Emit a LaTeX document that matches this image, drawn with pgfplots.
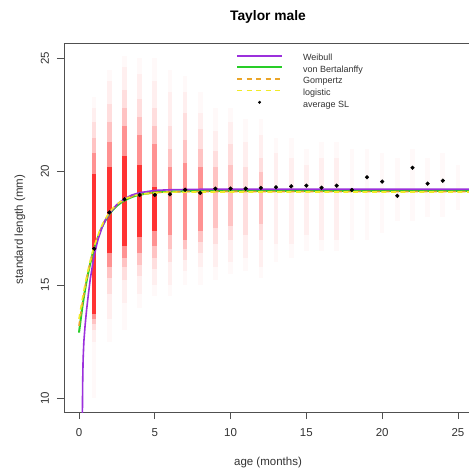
\documentclass[border=0pt]{standalone}
\usepackage{pgfplots}
\pgfplotsset{compat=1.18}
\usepackage{fontspec}
\setmainfont{Liberation Sans}
\definecolor{wpurple}{RGB}{155,48,220}
\definecolor{vbgreen}{RGB}{40,205,40}
\definecolor{gorange}{RGB}{235,165,40}
\definecolor{lyellow}{RGB}{240,235,40}
\definecolor{axgray}{RGB}{80,80,80}
\pgfplotsset{
  linelegend/.style={legend image code/.code={\draw[##1] (0pt,2.6pt) -- (45pt,2.6pt);}},
  dotlegend/.style={legend image code/.code={\draw[##1] plot coordinates {(22.5pt,2.6pt)};}},
  cloud/.style={forget plot, draw=red, line width=4.6pt, opacity=#1},
}
\begin{document}
\begin{tikzpicture}
\begin{axis}[
  name=ax, at={(0,0)}, anchor=south west,
  scale only axis, width=405pt, height=369pt,
  xmin=-0.99, xmax=25.73, ymin=9.40, ymax=25.67,
  axis x line*=box, axis y line*=left,
  xtick={0,5,...,25}, ytick={10,15,20,25},
  xtick pos=bottom, ytick pos=left,
  tick align=outside, major tick length=7pt,
  axis line style={axgray, line width=0.8pt},
  every tick/.style={axgray, line width=0.8pt},
  /pgf/number format/assume math mode=true,
  ticklabel style={font=\fontsize{11.5}{13}\selectfont, text=black!80},
  xticklabel style={anchor=center, yshift=-14pt},
  yticklabel style={anchor=center, xshift=-12pt, rotate=90},
  unbounded coords=jump,
  every axis title/.style={at={(axis description cs:0.5,1)}, anchor=center, yshift=26.3pt, xshift=1.5pt, font=\bfseries\fontsize{13.8}{15}\selectfont},
  every axis x label/.style={at={(axis description cs:0.5,0)}, anchor=center, yshift=-51pt, xshift=1.5pt, font=\fontsize{11.5}{13}\selectfont, text=black!80},
  every axis y label/.style={at={(axis description cs:0,0.5)}, xshift=-44pt, yshift=-2pt, rotate=90, anchor=center, font=\fontsize{11.5}{13}\selectfont, text=black!80},
  title={Taylor male},
  xlabel={age (months)},
  ylabel={standard length (mm)},
  linelegend,
  legend cell align=left,
  legend style={at={(rel axis cs:0.4244,0.970)}, anchor=north west, draw=none, fill=none,
    inner sep=0pt, row sep=3.2pt, column sep=20pt,
    font=\fontsize{9}{10}\selectfont,
    nodes={inner sep=0pt, text height=6.5pt, text depth=1.9pt, text=black!80}},
]
% legend entries
\addlegendimage{draw=wpurple, line width=1.6pt}
\addlegendentry{Weibull}
\addlegendimage{draw=vbgreen, line width=2pt}
\addlegendentry{von Bertalanffy}
\addlegendimage{draw=gorange, line width=1.6pt, dash pattern=on 5pt off 4.5pt}
\addlegendentry{Gompertz}
\addlegendimage{draw=lyellow, line width=1.6pt, dash pattern=on 5pt off 4.5pt}
\addlegendentry{logistic}
\addlegendimage{only marks, mark=*, mark size=1.3pt, black, dotlegend}
\addlegendentry{average SL}
% cloud of individual lengths, layer 1 (outermost, faintest)
\addplot[cloud=0.025] coordinates {
(1,10.0)(1,23.3)(1,nan) (2,12.5)(2,24.5)(2,nan) (3,13.0)(3,25.1)(3,nan) (4,14.0)(4,25.0)(4,nan)
(5,14.5)(5,25.0)(5,nan) (6,14.5)(6,24.5)(6,nan) (7,15.0)(7,24.2)(7,nan) (8,15.0)(8,23.5)(8,nan)
(9,15.2)(9,22.8)(9,nan) (10,15.5)(10,22.8)(10,nan) (11,15.6)(11,22.3)(11,nan) (12,15.3)(12,22.3)(12,nan)
(13,16.0)(13,21.5)(13,nan) (14,16.2)(14,21.5)(14,nan) (15,16.5)(15,21.0)(15,nan) (16,16.5)(16,21.3)(16,nan)
(17,16.5)(17,21.3)(17,nan) (18,17.0)(18,21.0)(18,nan) (19,17.0)(19,21.0)(19,nan) (20,17.3)(20,20.8)(20,nan)
(21,17.8)(21,20.6)(21,nan) (22,17.8)(22,21.0)(22,nan) (23,18.0)(23,20.6)(23,nan) (24,18.0)(24,20.8)(24,nan)
(25,18.3)(25,20.3)
};
% layer 2
\addplot[cloud=0.04] coordinates {
(1,12.5)(1,22.8)(1,nan) (2,13.5)(2,24.0)(2,nan) (3,14.2)(3,24.6)(3,nan) (4,14.6)(4,24.3)(4,nan)
(5,15.0)(5,24.0)(5,nan) (6,15.0)(6,23.5)(6,nan) (7,15.6)(7,23.5)(7,nan) (8,15.8)(8,22.6)(8,nan)
(9,15.8)(9,21.8)(9,nan) (10,16.0)(10,22.2)(10,nan) (11,16.2)(11,21.3)(11,nan) (12,15.8)(12,21.6)(12,nan)
(13,16.8)(13,20.8)(13,nan) (14,16.8)(14,20.6)(14,nan) (15,17.2)(15,20.3)(15,nan) (16,17.0)(16,20.6)(16,nan)
(17,17.0)(17,20.6)
};
% layer 3
\addplot[cloud=0.07] coordinates {
(1,13.0)(1,22.2)(1,nan) (2,14.6)(2,23.0)(2,nan) (3,15.2)(3,23.6)(3,nan) (4,15.4)(4,23.2)(4,nan)
(5,15.7)(5,22.8)(5,nan) (6,16.0)(6,22.0)(6,nan) (7,16.1)(7,22.6)(7,nan) (8,16.4)(8,21.9)(8,nan)
(9,16.8)(9,20.9)(9,nan) (10,17.0)(10,21.2)(10,nan) (11,17.2)(11,20.2)(11,nan) (12,17.0)(12,20.6)
};
% layer 4
\addplot[cloud=0.12] coordinates {
(1,13.3)(1,21.5)(1,nan) (2,15.3)(2,22.2)(2,nan) (3,15.8)(3,22.8)(3,nan) (4,15.9)(4,22.4)(4,nan)
(5,16.2)(5,22.0)(5,nan) (6,16.6)(6,21.0)(6,nan) (7,16.6)(7,21.4)(7,nan) (8,16.9)(8,21.0)(8,nan)
(9,17.5)(9,20.2)(9,nan) (10,17.6)(10,20.3)(10,nan) (12,17.7)(12,20.0)
};
% layer 5
\addplot[cloud=0.25] coordinates {
(1,13.5)(1,20.8)(1,nan) (2,15.8)(2,21.3)(2,nan) (3,16.2)(3,22.0)(3,nan) (4,16.4)(4,21.6)(4,nan)
(5,16.7)(5,21.2)(5,nan) (6,17.2)(6,20.2)(6,nan) (7,17.0)(7,20.4)(7,nan) (8,17.4)(8,20.2)
};
% layer 6 (dense core)
\addplot[cloud=0.65] coordinates {
(1,13.7)(1,19.9)(1,nan) (2,16.4)(2,20.2)(2,nan) (3,16.7)(3,20.7)(3,nan) (4,17.1)(4,20.3)(4,nan)
(5,17.4)(5,19.3)
};
% von Bertalanffy
\addplot[forget plot, vbgreen, line width=2pt, smooth] coordinates {
(0,12.90)(0.25,14.16)(0.5,15.17)(0.75,15.97)(1,16.61)(1.5,17.53)(2,18.12)(2.5,18.49)(3,18.73)
(3.5,18.88)(4,18.98)(5,19.08)(6,19.12)(8,19.145)(12,19.15)(26,19.15)};
% Gompertz
\addplot[forget plot, gorange, line width=1.6pt, dash pattern=on 5pt off 4.5pt, smooth] coordinates {
(0,13.20)(0.25,14.31)(0.5,15.25)(0.75,16.02)(1,16.65)(1.5,17.57)(2,18.16)(2.5,18.53)(3,18.76)
(3.5,18.90)(4,18.98)(5,19.07)(6,19.10)(8,19.12)(12,19.12)(26,19.12)};
% Weibull
\addplot[forget plot, wpurple, line width=1.6pt] coordinates {
(0.22,9.0)(0.24,10.6)(0.27,11.7)(0.32,12.5)(0.4,13.2)(0.5,13.9)(0.62,14.6)(0.75,15.3)(0.9,15.9)
(1.0,16.3)(1.25,17.0)(1.5,17.5)(1.75,17.87)(2,18.15)(2.5,18.55)(3,18.8)(3.5,18.97)(4,19.07)
(5,19.17)(6,19.2)(8,19.22)(26,19.22)};
% logistic
\addplot[forget plot, lyellow, line width=1.6pt, dash pattern=on 5pt off 4.5pt, smooth] coordinates {
(0,13.50)(0.25,14.49)(0.5,15.35)(0.75,16.09)(1,16.70)(1.5,17.61)(2,18.19)(2.5,18.56)(3,18.78)
(3.5,18.91)(4,18.99)(5,19.06)(6,19.09)(8,19.10)(12,19.10)(26,19.10)};
% average SL
\addplot[forget plot, only marks, mark=*, mark size=1.9pt, black] coordinates {
(1,16.6)(2,18.2)(3,18.78)(4,18.97)(5,18.97)(6,19.0)(7,19.2)(8,19.06)(9,19.25)(10,19.25)(11,19.25)
(12,19.28)(13,19.31)(14,19.35)(15,19.38)(16,19.29)(17,19.38)(18,19.19)(19,19.75)(20,19.56)
(21,18.93)(22,20.17)(23,19.47)(24,19.60)};
\end{axis}
\pgfresetboundingbox
\useasboundingbox (-64pt,-63pt) rectangle (405pt,412pt);
\end{tikzpicture}
\end{document}
